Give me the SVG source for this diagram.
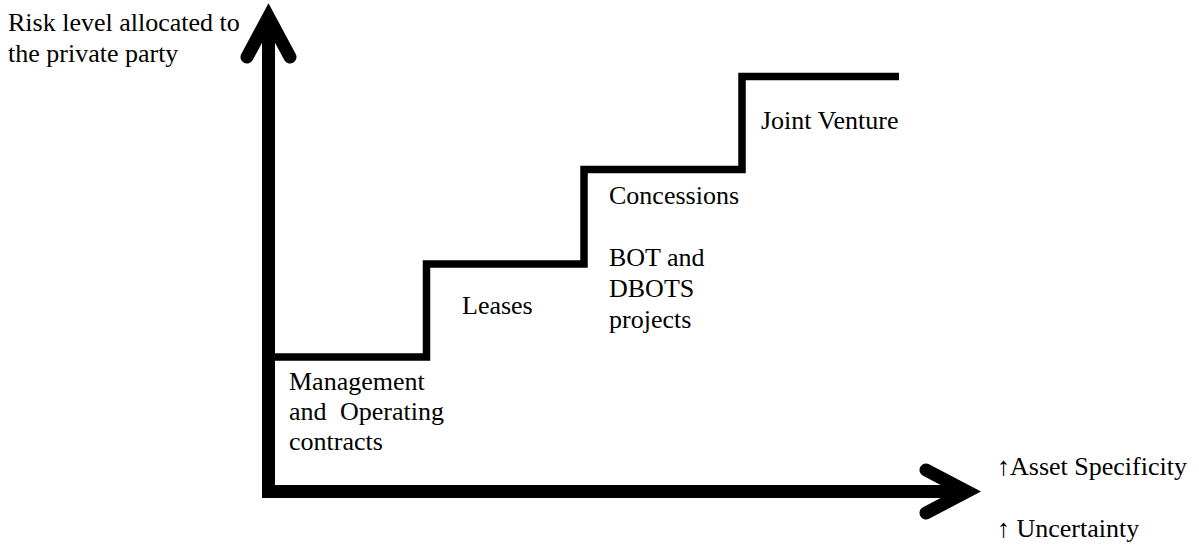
<svg xmlns="http://www.w3.org/2000/svg" width="1199" height="548" viewBox="0 0 1199 548">
<style>
text{font-family:"Liberation Serif","Times New Roman",serif;font-size:26px;fill:#000}
.axis{fill:none;stroke:#000;stroke-width:13}
.head{fill:none;stroke:#000;stroke-width:13;stroke-linecap:round;stroke-linejoin:miter}
.step{fill:none;stroke:#000;stroke-width:7.5;stroke-linejoin:miter}
</style>
<rect width="1199" height="548" fill="#fff"/>
<g id="connectors">
<path class="axis" d="M268.5,498 V20"/>
<path class="axis" d="M262,491.5 H965"/>
<polyline class="head" points="247,57 268.5,17 290,57"/>
<polyline class="head" points="926,470 967,491.5 926,513"/>
<polyline class="step" points="275,357 426.5,357 426.5,264 584,264 584,169.5 742,169.5 742,76.5 899,76.5"/>
</g>
<g id="y-label"><text x="8" y="31">Risk level allocated to</text><text x="8" y="62">the private party</text></g>
<g id="management"><text x="289" y="390">Management</text><text y="420"><tspan x="289">and</tspan><tspan x="340">Operating</tspan></text><text x="289" y="450">contracts</text></g>
<g id="leases"><text x="462" y="314">Leases</text></g>
<g id="concessions"><text x="609" y="204">Concessions</text></g>
<g id="bot"><text x="609" y="266">BOT and</text><text x="609" y="297">DBOTS</text><text x="609" y="328">projects</text></g>
<g id="joint-venture"><text x="761" y="129">Joint Venture</text></g>
<g id="x-label"><text x="997" y="475">↑Asset Specificity</text><text x="997" y="537">↑ Uncertainty</text></g>
</svg>
